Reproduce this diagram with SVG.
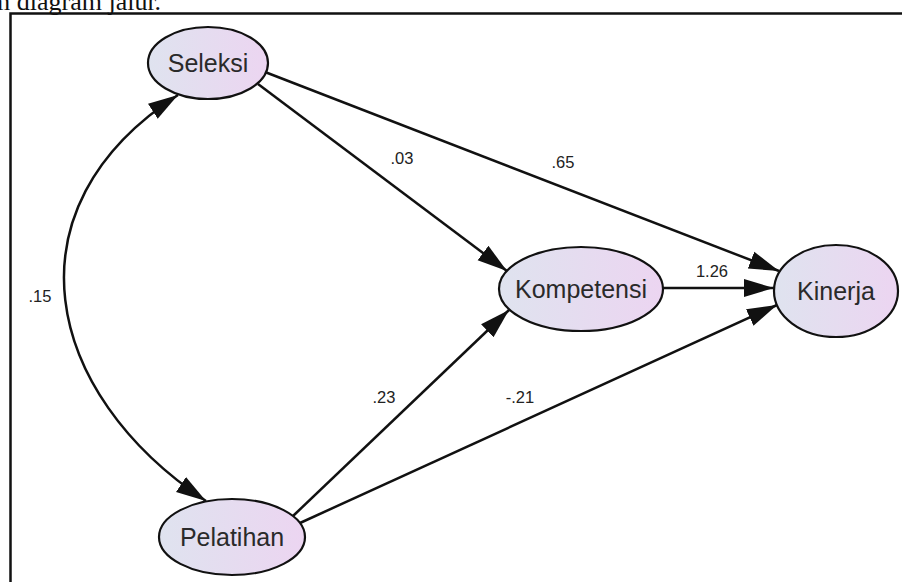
<svg xmlns="http://www.w3.org/2000/svg" width="902" height="582" viewBox="0 0 902 582">
<style>
.node ellipse{fill:url(#g);stroke:#111;stroke-width:2.2}
.node text{font-family:"Liberation Sans",Arial,sans-serif;font-size:25px;fill:#2a2a2a;text-anchor:middle}
.lab{font-family:"Liberation Sans",Arial,sans-serif;font-size:16.5px;fill:#222;text-anchor:middle}
.con path{fill:none;stroke:#111;stroke-width:2.5}
</style>
<defs>
<linearGradient id="g" x1="0" y1="0" x2="1" y2="0">
<stop offset="0" stop-color="#dfe3ef"/>
<stop offset="1" stop-color="#ecd5f1"/>
</linearGradient>
<marker id="a" markerUnits="userSpaceOnUse" markerWidth="32" markerHeight="20" refX="30" refY="9" orient="auto-start-reverse" viewBox="0 0 32 18">
<path d="M0,0 L30,9 L0,18 z" fill="#111"/>
</marker>
</defs>
<rect width="902" height="582" fill="#fff"/>
<text x="-10" y="10" font-family="Liberation Serif,serif" font-size="26" fill="#111">m diagram jalur.</text>
<path d="M10.5,590 V13.5 H910" fill="none" stroke="#111" stroke-width="2.5"/>
<g class="con" id="connectors">
<path d="M258,84 L507,271" marker-end="url(#a)"/>
<path d="M265,72 L779,271" marker-end="url(#a)"/>
<path d="M663,288 L774,288" marker-end="url(#a)"/>
<path d="M293,516 L509,310" marker-end="url(#a)"/>
<path d="M300,523 L777,305" marker-end="url(#a)"/>
<path d="M178,95 C3,208 43,393 206,501" marker-start="url(#a)" marker-end="url(#a)"/>
</g>
<g id="labels">
<text class="lab" x="402" y="164">.03</text>
<text class="lab" x="563" y="168">.65</text>
<text class="lab" x="712" y="277">1.26</text>
<text class="lab" x="40" y="302">.15</text>
<text class="lab" x="384" y="403">.23</text>
<text class="lab" x="520" y="403">-.21</text>
</g>
<g class="node" id="seleksi"><ellipse cx="208" cy="63" rx="60" ry="36"/><text x="208" y="72">Seleksi</text></g>
<g class="node" id="kompetensi"><ellipse cx="581" cy="289" rx="82" ry="42"/><text x="581" y="298">Kompetensi</text></g>
<g class="node" id="kinerja"><ellipse cx="836" cy="291" rx="62" ry="46"/><text x="836" y="300">Kinerja</text></g>
<g class="node" id="pelatihan"><ellipse cx="232" cy="537" rx="73" ry="38"/><text x="232" y="546">Pelatihan</text></g>
</svg>
